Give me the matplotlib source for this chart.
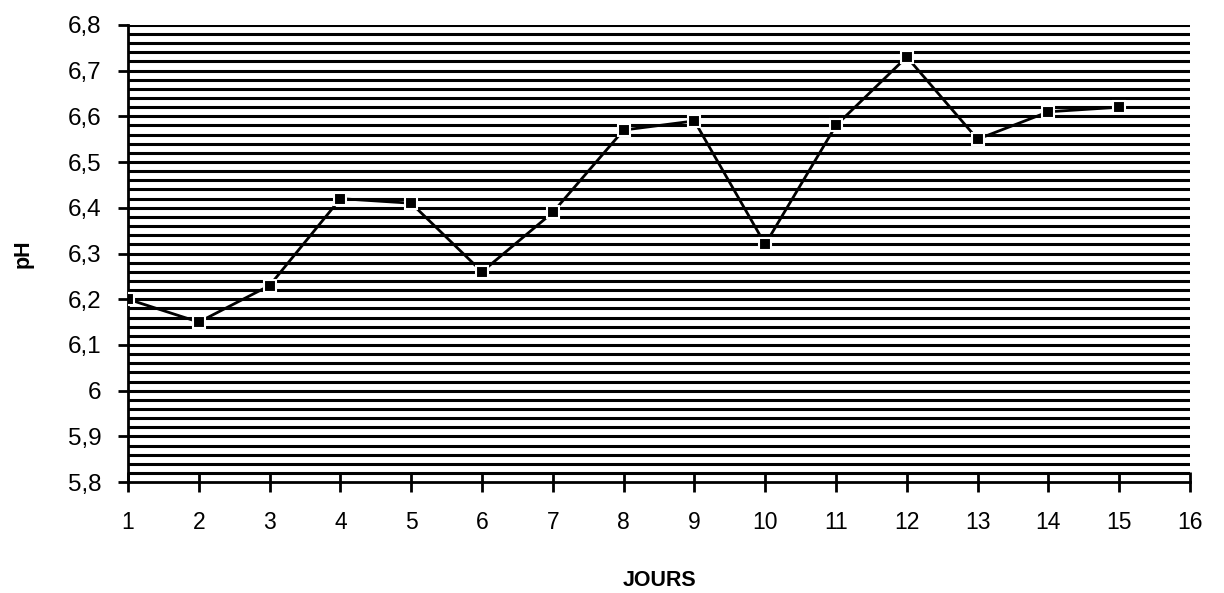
import matplotlib.pyplot as plt
import numpy as np

jours = [1, 2, 3, 4, 5, 6, 7, 8, 9, 10, 11, 12, 13, 14, 15]
ph = [6.20, 6.15, 6.23, 6.42, 6.41, 6.26, 6.39, 6.57, 6.59, 6.32, 6.58, 6.73, 6.55, 6.61, 6.62]

y_ticks = [5.8, 5.9, 6.0, 6.1, 6.2, 6.3, 6.4, 6.5, 6.6, 6.7, 6.8]
y_labels = ["5,8", "5,9", "6", "6,1", "6,2", "6,3", "6,4", "6,5", "6,6", "6,7", "6,8"]
x_ticks = list(range(1, 17))

plt.rcParams['font.family'] = ['Liberation Sans', 'DejaVu Sans']

fig = plt.figure(figsize=(12.24, 5.93), dpi=100)
ax = fig.add_axes([0.1046, 0.187, 0.8676, 0.771])

# fond hachuré (lignes horizontales serrées)
for yy in np.arange(5.82, 6.81, 0.02):
    ax.axhline(yy, color='black', linewidth=2.2, zorder=1)

ax.plot(jours, ph, color='black', linewidth=2, marker='s', markersize=9,
        markerfacecolor='black', markeredgecolor='white', markeredgewidth=1.5, zorder=3)

ax.set_xlim(1, 16)
ax.set_ylim(5.8, 6.8)
ax.set_xticks(x_ticks)
ax.set_xticklabels([str(x) for x in x_ticks], fontsize=16.5)
ax.set_yticks(y_ticks)
ax.set_yticklabels(y_labels, fontsize=17.5)

ax.tick_params(axis='x', direction='inout', length=14, width=2, pad=14)
ax.tick_params(axis='y', direction='out', length=7, width=2, pad=12)

for side in ['left', 'bottom']:
    ax.spines[side].set_linewidth(2)
ax.spines['top'].set_visible(False)
ax.spines['right'].set_visible(False)

ax.set_xlabel("JOURS", fontsize=15.5, fontweight='bold', labelpad=26)
ax.set_ylabel("pH", fontsize=15.5, fontweight='bold', labelpad=25)

fig.savefig('out.png', dpi=100)
